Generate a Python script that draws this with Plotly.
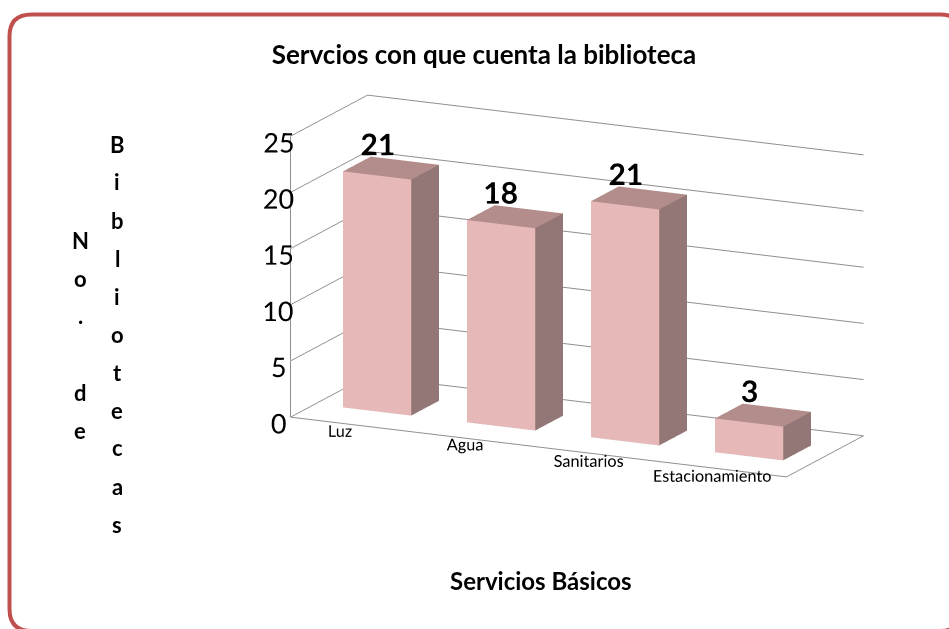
import plotly.graph_objects as go

# ---------------- data ----------------
categories = ["Luz", "Agua", "Sanitarios", "Estacionamiento"]
values = [21, 18, 21, 3]
z_ticks = [0, 5, 10, 15, 20, 25]
title_text = "Servcios con que cuenta la biblioteca"
x_title = "Servicios Básicos"
y_title_col1 = "No. de"
y_title_col2 = "Bibliotecas"

# ---------------- style ----------------
FONT = "Lato"
C_FRONT = "#E6B8B7"
C_SIDE = "#937676"
C_TOP = "#B38D8C"
C_GRID = "#8F8F8F"
C_BORDER = "#C0504D"
W, H = 949, 629
BAR_W = 0.55
DEPTH0, DEPTH1 = 0.32, 0.68
LABEL_LIFT = 2.8  # data-label offset above bar top (in value units)

# ---------------- bars as 3D boxes ----------------
xs, ys, zs, ii, jj, kk, fc = [], [], [], [], [], [], []
for idx, v in enumerate(values):
    x0, x1 = idx - BAR_W / 2, idx + BAR_W / 2
    base = len(xs)
    pts = [(x0, DEPTH0, 0), (x1, DEPTH0, 0), (x1, DEPTH1, 0), (x0, DEPTH1, 0),
           (x0, DEPTH0, v), (x1, DEPTH0, v), (x1, DEPTH1, v), (x0, DEPTH1, v)]
    for p in pts:
        xs.append(p[0]); ys.append(p[1]); zs.append(p[2])
    faces = [((0, 1, 5), C_FRONT), ((0, 5, 4), C_FRONT),
             ((1, 2, 6), C_SIDE), ((1, 6, 5), C_SIDE),
             ((4, 5, 6), C_TOP), ((4, 6, 7), C_TOP),
             ((0, 3, 7), C_SIDE), ((0, 7, 4), C_SIDE),
             ((3, 2, 6), C_SIDE), ((3, 6, 7), C_SIDE),
             ((0, 1, 2), C_SIDE), ((0, 2, 3), C_SIDE)]
    for (a, b, c), col in faces:
        ii.append(base + a); jj.append(base + b); kk.append(base + c); fc.append(col)

fig = go.Figure()
fig.add_trace(go.Mesh3d(
    x=xs, y=ys, z=zs, i=ii, j=jj, k=kk, facecolor=fc, flatshading=True,
    lighting=dict(ambient=1.0, diffuse=0.0, specular=0.0, roughness=1.0, fresnel=0.0),
    hoverinfo="skip", showscale=False,
))
fig.add_trace(go.Scatter3d(
    x=list(range(len(values))), y=[DEPTH0] * len(values),
    z=[v + LABEL_LIFT for v in values],
    mode="text", text=[str(v) for v in values], textposition="middle center",
    textfont=dict(family=FONT, size=30, color="black", weight="bold"),
    hoverinfo="skip", showlegend=False,
))

axis_common = dict(showbackground=False, showspikes=False, zeroline=False,
                   title=dict(text=""), tickangle=0)
fig.update_layout(
    width=W, height=H,
    margin=dict(l=0, r=0, t=0, b=0),
    paper_bgcolor="white",
    showlegend=False,
    scene=dict(
        domain=dict(x=[0.218, 0.998], y=[0.125, 0.965]),
        xaxis=dict(axis_common, range=[-0.5, 3.5], tickvals=list(range(len(categories))),
                   ticktext=categories, showgrid=False, showline=True,
                   linecolor=C_GRID, linewidth=2,
                   ticks="outside", ticklen=60, tickcolor="rgba(0,0,0,0)",
                   tickfont=dict(family=FONT, size=14, color="black")),
        yaxis=dict(axis_common, range=[0, 1], showgrid=False, showticklabels=False,
                   ticks="", showline=True, linecolor=C_GRID, linewidth=2),
        zaxis=dict(axis_common, range=[0, 25], tickvals=z_ticks, showgrid=True,
                   gridcolor=C_GRID, gridwidth=2, showline=True, linecolor=C_GRID,
                   linewidth=2, ticks="outside", ticklen=10, tickcolor="rgba(0,0,0,0)",
                   tickfont=dict(family=FONT, size=18, color="black")),
        aspectmode="manual",
        aspectratio=dict(x=2.08, y=0.68, z=1.1),
        camera=dict(eye=dict(x=0.783, y=-1.648, z=0.478), center=dict(x=0, y=0, z=0),
                    up=dict(x=0, y=0, z=1), projection=dict(type="orthographic")),
    ),
    title=dict(text="<b>" + title_text + "</b>", x=484 / W, y=1 - 55 / H,
               xanchor="center", yanchor="middle",
               font=dict(family=FONT, size=26, color="black")),
)

# axis title (x)
fig.add_annotation(text="<b>" + x_title + "</b>", x=541 / W, y=1 - 580 / H,
                   xref="paper", yref="paper", showarrow=False,
                   xanchor="center", yanchor="middle",
                   font=dict(family=FONT, size=24, color="black"))

# vertical letter-stacked y title (two columns)
LINE = 38
def stacked(text, xc, yc):
    n = len(text)
    top = yc - (n - 1) * LINE / 2
    for k, ch in enumerate(text):
        if ch.strip() == "":
            continue
        fig.add_annotation(text="<b>" + ch + "</b>", x=xc / W, y=1 - (top + k * LINE) / H,
                           xref="paper", yref="paper", showarrow=False,
                           xanchor="center", yanchor="middle",
                           font=dict(family=FONT, size=22, color="black"))

stacked(y_title_col1, 80, 335)
stacked(y_title_col2, 117, 334)

# rounded chart-area border
x0b, y0b, x1b, y1b, r = 9.5, 14.5, 962, 631, 22
def px(x):
    return x / W
def py(y):
    return 1 - y / H
path = (f"M {px(x0b + r)},{py(y0b)} L {px(x1b - r)},{py(y0b)} "
        f"Q {px(x1b)},{py(y0b)} {px(x1b)},{py(y0b + r)} "
        f"L {px(x1b)},{py(y1b - r)} Q {px(x1b)},{py(y1b)} {px(x1b - r)},{py(y1b)} "
        f"L {px(x0b + r)},{py(y1b)} Q {px(x0b)},{py(y1b)} {px(x0b)},{py(y1b - r)} "
        f"L {px(x0b)},{py(y0b + r)} Q {px(x0b)},{py(y0b)} {px(x0b + r)},{py(y0b)} Z")
fig.add_shape(type="path", path=path, xref="paper", yref="paper",
              line=dict(color=C_BORDER, width=4), layer="above")

fig.write_html("out.html", config={"displayModeBar": False},
               post_script="document.body.style.margin='0';")
